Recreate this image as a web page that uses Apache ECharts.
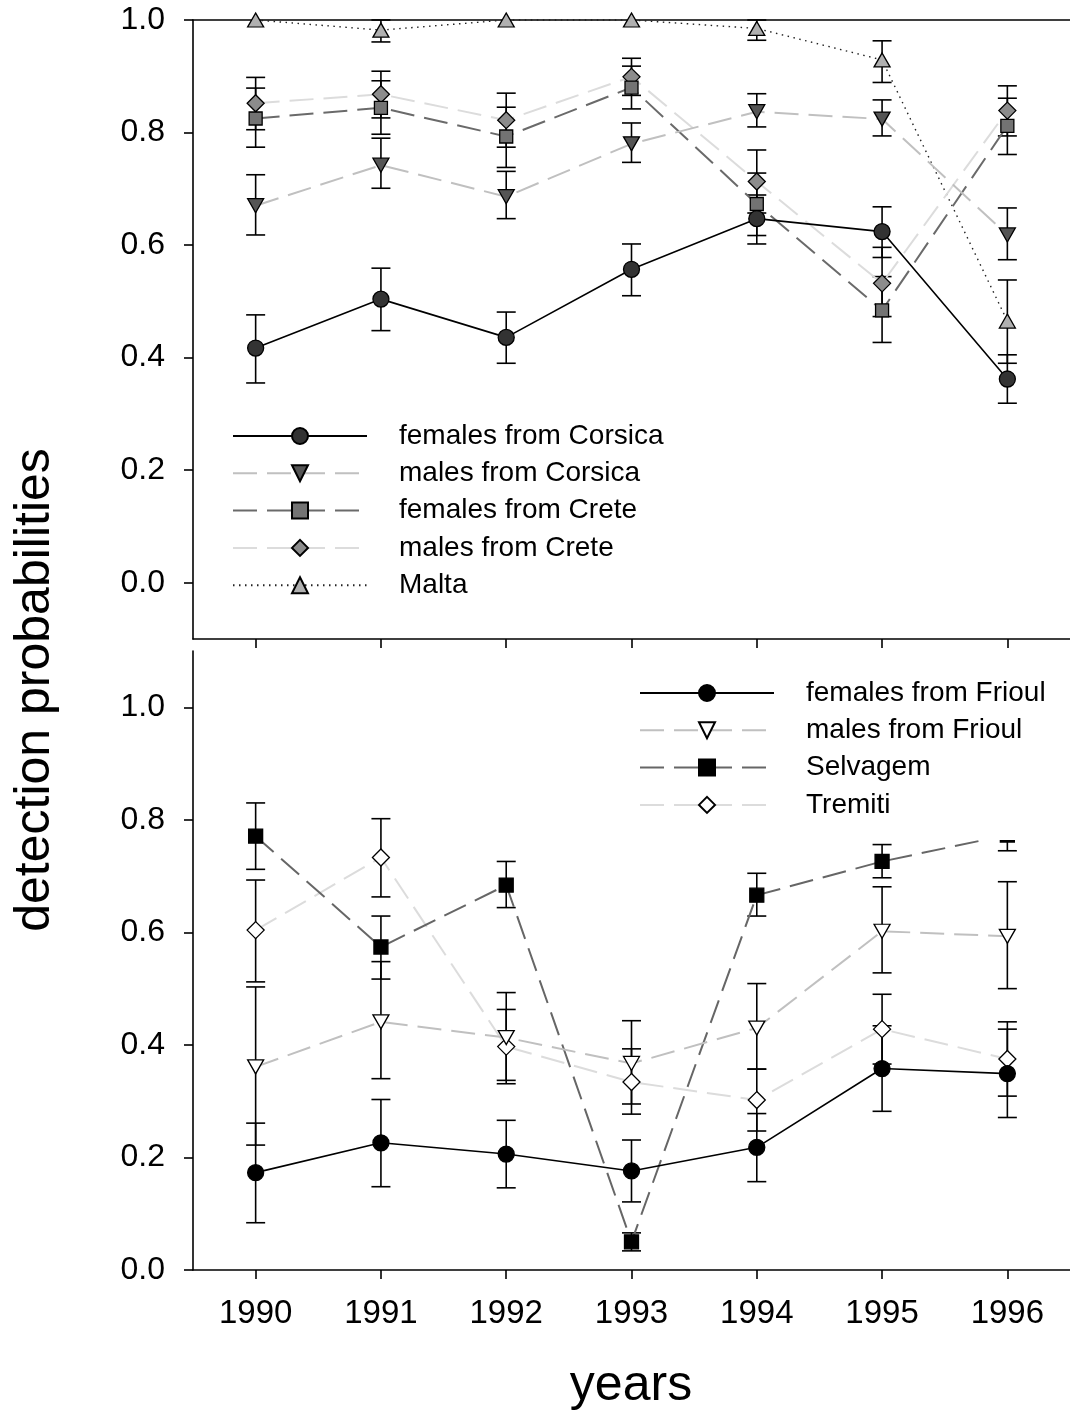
<!DOCTYPE html>
<html>
<head>
<meta charset="utf-8">
<script src="https://cdn.jsdelivr.net/npm/echarts@6.0.0/dist/echarts.min.js"></script>
<style>
  html, body { margin: 0; padding: 0; background: #fff; }
  #chart { width: 1070px; height: 1416px; }
</style>
</head>
<body>
<div id="chart"></div>
<script>
// years on the x axis
const years = [1990, 1991, 1992, 1993, 1994, 1995, 1996];
const yTicks = [0, 0.2, 0.4, 0.6, 0.8, 1.0];

// top panel
const femCorsica   = [0.417, 0.504, 0.436, 0.557, 0.647, 0.624, 0.362];
const femCorsicaLo = [0.355, 0.448, 0.390, 0.510, 0.602, 0.578, 0.319];
const femCorsicaHi = [0.476, 0.559, 0.481, 0.602, 0.689, 0.668, 0.405];

const maleCorsica   = [0.670, 0.742, 0.686, 0.780, 0.837, 0.824, 0.618];
const maleCorsicaLo = [0.618, 0.701, 0.647, 0.747, 0.810, 0.794, 0.574];
const maleCorsicaHi = [0.725, 0.790, 0.731, 0.817, 0.869, 0.858, 0.666];

const femCrete   = [0.825, 0.844, 0.793, 0.880, 0.673, 0.484, 0.812];
const femCreteLo = [0.774, 0.797, 0.738, 0.842, 0.617, 0.427, 0.761];
const femCreteHi = [0.879, 0.892, 0.845, 0.918, 0.728, 0.544, 0.861];

const maleCrete   = [0.852, 0.868, 0.822, 0.899, 0.713, 0.532, 0.839];
const maleCreteLo = [0.805, 0.826, 0.774, 0.866, 0.657, 0.473, 0.794];
const maleCreteHi = [0.898, 0.909, 0.870, 0.932, 0.769, 0.596, 0.883];

const malta   = [1.0, 0.982, 1.0, 1.0, 0.985, 0.929, 0.465];
const maltaLo = [1.0, 0.961, 1.0, 1.0, 0.964, 0.889, 0.390];
const maltaHi = [1.0, 1.0, 1.0, 1.0, 1.0, 0.963, 0.538];

// bottom panel
const femFrioul   = [0.173, 0.226, 0.206, 0.176, 0.218, 0.358, 0.349];
const femFrioulLo = [0.084, 0.148, 0.146, 0.121, 0.157, 0.282, 0.271];
const femFrioulHi = [0.261, 0.303, 0.266, 0.231, 0.278, 0.434, 0.428];

const maleFrioul   = [0.361, 0.441, 0.413, 0.367, 0.430, 0.602, 0.593];
const maleFrioulLo = [0.222, 0.340, 0.331, 0.295, 0.357, 0.528, 0.500];
const maleFrioulHi = [0.503, 0.548, 0.493, 0.443, 0.509, 0.681, 0.690];

const selvagem   = [0.771, 0.574, 0.684, 0.050, 0.666, 0.726, 0.773];
const selvagemLo = [0.712, 0.517, 0.644, 0.034, 0.629, 0.697, 0.745];
const selvagemHi = [0.830, 0.629, 0.726, 0.066, 0.705, 0.756, 0.800];

const tremiti   = [0.604, 0.733, 0.397, 0.334, 0.302, 0.428, 0.375];
const tremitiLo = [0.512, 0.663, 0.337, 0.277, 0.247, 0.366, 0.309];
const tremitiHi = [0.693, 0.802, 0.463, 0.393, 0.357, 0.490, 0.441];

const FONT = 'Liberation Sans, Arial, sans-serif';

function lineSeries(name, vals, grid, o) {
  return {
    name: name,
    type: 'line',
    xAxisIndex: grid * 2,
    yAxisIndex: grid,
    data: years.map((y, i) => [y, vals[i]]),
    symbol: o.symbol,
    symbolSize: o.size,
    symbolRotate: o.rotate || 0,
    showAllSymbol: true,
    clip: false,
    z: 3,
    lineStyle: { color: o.line, width: o.width || 1.6, type: o.dash || 'solid' },
    itemStyle: { color: o.fill, borderColor: '#000', borderWidth: 1.3 }
  };
}

function barSeries(lo, hi, grid) {
  const data = [];
  years.forEach((y, i) => {
    if (hi[i] > lo[i]) data.push([y, lo[i], hi[i]]);
  });
  return {
    type: 'custom',
    xAxisIndex: grid * 2,
    yAxisIndex: grid,
    data: data,
    z: 2,
    silent: true,
    encode: { x: 0, y: [1, 2] },
    renderItem(params, api) {
      const a = api.coord([api.value(0), api.value(1)]);
      const b = api.coord([api.value(0), api.value(2)]);
      const w = 9.5;
      const st = { stroke: '#000', lineWidth: 1.6 };
      return {
        type: 'group',
        children: [
          { type: 'line', shape: { x1: a[0], y1: a[1], x2: b[0], y2: b[1] }, style: st },
          { type: 'line', shape: { x1: a[0] - w, y1: a[1], x2: a[0] + w, y2: a[1] }, style: st },
          { type: 'line', shape: { x1: b[0] - w, y1: b[1], x2: b[0] + w, y2: b[1] }, style: st }
        ]
      };
    }
  };
}

const axisLineStyle = { color: '#000', width: 1.6 };

function xAxes(grid, showLabels) {
  const base = {
    type: 'value', gridIndex: grid, min: 1989.5, max: 1996.5,
    splitLine: { show: false }
  };
  return [
    Object.assign({}, base, {
      position: 'bottom',
      axisLine: { show: true, onZero: false, lineStyle: axisLineStyle },
      axisTick: { show: true, inside: false, length: 9, customValues: years, lineStyle: axisLineStyle },
      axisLabel: {
        show: showLabels, customValues: years, margin: 27,
        fontSize: 33, color: '#000', fontFamily: FONT,
        formatter: v => String(v)
      }
    }),
    Object.assign({}, base, {
      position: 'top',
      axisLine: { show: grid === 0, onZero: false, lineStyle: axisLineStyle },
      axisTick: { show: false },
      axisLabel: { show: false }
    })
  ];
}

function yAxis(grid, min, max) {
  return {
    type: 'value', gridIndex: grid, min: min, max: max,
    splitLine: { show: false },
    axisLine: { show: true, onZero: false, lineStyle: axisLineStyle },
    axisTick: { show: true, length: 9, customValues: yTicks, lineStyle: axisLineStyle },
    axisLabel: {
      customValues: yTicks, margin: 28, fontSize: 32, color: '#000', fontFamily: FONT,
      formatter: v => v.toFixed(1)
    }
  };
}

const legendText = { fontSize: 28, color: '#000', fontFamily: FONT, padding: [0, 0, 0, 27] };

const option = {
  animation: false,
  backgroundColor: '#fff',
  grid: [
    { left: 193, top: 20, width: 883, height: 619 },
    { left: 193, top: 651, width: 883, height: 619 }
  ],
  xAxis: xAxes(0, false).concat(xAxes(1, true)),
  yAxis: [yAxis(0, -0.1, 1.0), yAxis(1, 0, 1.1)],
  legend: [
    {
      orient: 'vertical', left: 224, top: 412,
      padding: [10, 30, 12, 8], backgroundColor: '#fff',
      itemWidth: 134, itemHeight: 20, itemGap: 9.3,
      textStyle: legendText,
      data: ['females from Corsica', 'males from Corsica', 'females from Crete', 'males from Crete', 'Malta']
    },
    {
      orient: 'vertical', left: 630, top: 667,
      padding: [12, 60, 21, 9], backgroundColor: '#fff',
      itemWidth: 134, itemHeight: 20, itemGap: 9.3,
      textStyle: legendText,
      data: ['females from Frioul', 'males from Frioul', 'Selvagem', 'Tremiti']
    }
  ],
  graphic: [
    {
      type: 'text', x: 35, y: 690, rotation: Math.PI / 2,
      style: { text: 'detection probabilities', font: '50px ' + FONT, fill: '#000', textAlign: 'center', textVerticalAlign: 'middle' }
    },
    {
      type: 'text', x: 631, y: 1386,
      style: { text: 'years', font: '50px ' + FONT, fill: '#000', textAlign: 'center', textVerticalAlign: 'middle' }
    }
  ],
  series: [
    barSeries(femCorsicaLo, femCorsicaHi, 0),
    barSeries(maleCorsicaLo, maleCorsicaHi, 0),
    barSeries(femCreteLo, femCreteHi, 0),
    barSeries(maleCreteLo, maleCreteHi, 0),
    barSeries(maltaLo, maltaHi, 0),
    barSeries(femFrioulLo, femFrioulHi, 1),
    barSeries(maleFrioulLo, maleFrioulHi, 1),
    barSeries(selvagemLo, selvagemHi, 1),
    barSeries(tremitiLo, tremitiHi, 1),

    lineSeries('Malta', malta, 0, { symbol: 'triangle', size: [16, 14], fill: '#b0b0b0', line: '#222', width: 1.4, dash: [1.5, 4.5] }),
    lineSeries('males from Crete', maleCrete, 0, { symbol: 'diamond', size: [17, 17], fill: '#8c8c8c', line: '#dcdcdc', width: 2, dash: [24, 10] }),
    lineSeries('females from Crete', femCrete, 0, { symbol: 'rect', size: [13, 13], fill: '#737373', line: '#6a6a6a', width: 2, dash: [24, 10] }),
    lineSeries('males from Corsica', maleCorsica, 0, { symbol: 'triangle', size: [16, 14], rotate: 180, fill: '#555', line: '#c0c0c0', width: 2, dash: [24, 10] }),
    lineSeries('females from Corsica', femCorsica, 0, { symbol: 'circle', size: 16, fill: '#333', line: '#000', width: 1.6 }),

    lineSeries('Tremiti', tremiti, 1, { symbol: 'diamond', size: [17, 17], fill: '#fff', line: '#dcdcdc', width: 2, dash: [24, 10] }),
    lineSeries('Selvagem', selvagem, 1, { symbol: 'rect', size: [14, 14], fill: '#000', line: '#666', width: 2, dash: [24, 10] }),
    lineSeries('males from Frioul', maleFrioul, 1, { symbol: 'triangle', size: [16, 14], rotate: 180, fill: '#fff', line: '#c0c0c0', width: 2, dash: [24, 10] }),
    lineSeries('females from Frioul', femFrioul, 1, { symbol: 'circle', size: 16, fill: '#000', line: '#000', width: 1.6 })
  ]
};

const chart = echarts.init(document.getElementById('chart'), null, { renderer: 'canvas' });
chart.setOption(option);
</script>
</body>
</html>
